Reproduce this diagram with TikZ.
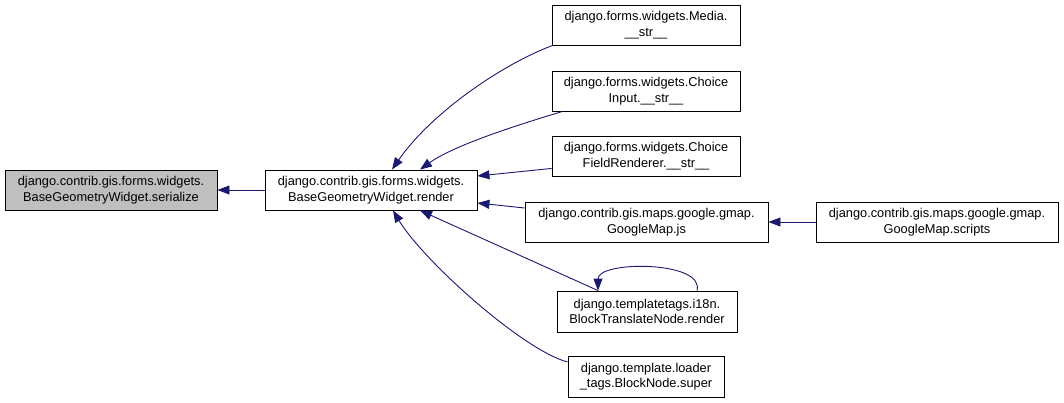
\documentclass[tikz,border=0pt]{standalone}
\usepackage{fontspec}
\setmainfont{Liberation Sans}
\usetikzlibrary{arrows.meta}
\definecolor{edgecol}{HTML}{191970}
\definecolor{hlfill}{HTML}{BFBFBF}
\begin{document}
\begin{tikzpicture}[x=1pt,y=-1pt,
  box/.style={draw=black, line width=0.9pt, fill=white, align=center, inner sep=0pt,
    font=\fontsize{12.8}{15.5}\selectfont},
  edge/.style={draw=edgecol, line width=0.9pt, -{Triangle[length=12pt,width=9pt]}, fill=none},
]
\useasboundingbox (0,0) rectangle (1064,403);
\node[box, fill=hlfill, minimum width=212pt, minimum height=40pt] (ser) at (111,190) {django.contrib.gis.forms.widgets.\\BaseGeometryWidget.serialize};
\node[box, minimum width=212pt, minimum height=40pt] (ren) at (371,190) {django.contrib.gis.forms.widgets.\\BaseGeometryWidget.render};
\node[box, minimum width=188pt, minimum height=40pt] (media) at (646,25) {django.forms.widgets.Media.\\\_\_str\_\_};
\node[box, minimum width=188pt, minimum height=40pt] (cinput) at (646,91) {django.forms.widgets.Choice\\Input.\_\_str\_\_};
\node[box, minimum width=188pt, minimum height=40pt] (cfr) at (646,156) {django.forms.widgets.Choice\\FieldRenderer.\_\_str\_\_};
\node[box, minimum width=243pt, minimum height=40pt] (js) at (646.5,222) {django.contrib.gis.maps.google.gmap.\\GoogleMap.js};
\node[box, minimum width=242pt, minimum height=40pt] (scripts) at (937,222) {django.contrib.gis.maps.google.gmap.\\GoogleMap.scripts};
\node[box, minimum width=180pt, minimum height=41pt] (btn) at (647,311.5) {django.templatetags.i18n.\\BlockTranslateNode.render};
\node[box, minimum width=156pt, minimum height=41pt] (bns) at (646,376.5) {django.template.loader\\\_tags.BlockNode.super};

\draw[edge] (ren.west) -- (ser.east);
\draw[edge] ([xshift=1pt]media.south west) .. controls +(-53,20) and +(38,-55) .. ([xshift=21pt]ren.north);
\draw[edge] ([xshift=11pt]cinput.south west) .. controls +(-40,12) and +(35,-25) .. ([xshift=49pt]ren.north);
\draw[edge] ([yshift=8pt]cfr.south west) -- ([yshift=14pt]ren.east);
\draw[edge] ([yshift=14pt]js.west) -- ([yshift=-13pt]ren.east);
\draw[edge] (scripts.west) -- (js.east);
\draw[edge] ([xshift=-49pt]btn.north) -- ([xshift=49pt]ren.south);
\draw[edge] ([yshift=14.5pt]bns.west) .. controls +(-45,-12) and +(30,50) .. ([xshift=22pt]ren.south);
\draw[edge] ([xshift=50pt]btn.north) .. controls +(8,-30) and +(0,-30) .. ([xshift=-49pt]btn.north);
\end{tikzpicture}
\end{document}
